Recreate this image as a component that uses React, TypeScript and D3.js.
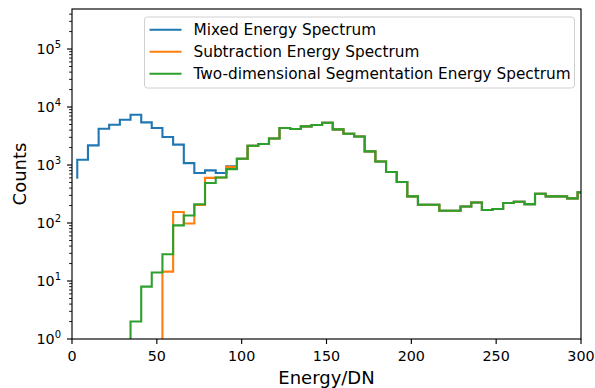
import React from 'react';
import * as d3 from 'd3';

// bin edges (Energy/DN)
const binEdges = [
  3.1, 9.4, 15.7, 21.9, 28.2, 34.5, 40.8, 47.0, 53.3, 59.6,
  65.9, 72.1, 78.4, 84.7, 91.0, 97.2, 103.5, 109.8, 116.1, 122.3,
  128.6, 134.9, 141.2, 147.4, 153.7, 160.0, 166.3, 172.5, 178.8, 185.1,
  191.4, 197.6, 203.9, 210.2, 216.5, 222.7, 229.0, 235.3, 241.6, 247.8,
  254.1, 260.4, 266.7, 272.9, 279.2, 285.5, 291.8, 298.0, 304.3,
];

// counts for edges 0..15 (mixed), 8..15 (subtraction), 5..15 (segmentation)
const mixedHead = [580, 1230, 2180, 4230, 4950, 6040, 7370, 5430, 4340, 3040, 2250, 1080, 728, 807, 728, 946];
const subtractionHead = [1, 14.5, 155, 98, 205, 600, 610, 930];
const segmentationHead = [1, 2, 8, 14, 29, 91, 135, 210, 490, 610, 850];
// all three spectra coincide from edge 16 on
const sharedTail = [
  1280, 2150, 2300, 2870, 4350, 4170, 4630, 4900, 5360, 4110,
  3470, 3110, 1720, 1150, 757, 510, 288, 207, 207, 163,
  163, 193, 226, 168, 174, 221, 233, 212, 320, 288,
  288, 266, 337,
];

const seriesNames = ['Mixed Energy Spectrum', 'Subtraction Energy Spectrum', 'Two-dimensional Segmentation Energy Spectrum'];
const seriesColors = ['#1f77b4', '#ff7f0e', '#2ca02c'];
const seriesStart = [0, 8, 5];
const seriesHeads = [mixedHead, subtractionHead, segmentationHead];

const xTicks = [0, 50, 100, 150, 200, 250, 300];
const yExponents = [0, 1, 2, 3, 4, 5];

const W = 595;
const H = 388;
const margin = { top: 9, right: 14, bottom: 49, left: 72 };
const font = '"DejaVu Sans", sans-serif';

const App = () => {
  const x = d3.scaleLinear().domain([0, 300]).range([margin.left, W - margin.right]);
  const y = d3.scaleLog().domain([1, 4.9e5]).range([H - margin.bottom, margin.top]);
  const [x0, x1] = x.range();
  const [y0, y1] = y.range();

  const series = seriesNames.map((name, i) => {
    const counts = seriesHeads[i].concat(sharedTail);
    const pts = counts.map((c, j) => [binEdges[seriesStart[i] + j], c] as [number, number]);
    return { name, color: seriesColors[i], pts };
  });

  const line = d3.line<[number, number]>()
    .x(d => x(d[0]))
    .y(d => y(d[1]))
    .curve(d3.curveStepBefore);

  const minor: number[] = [];
  yExponents.forEach(k => {
    for (let m = 2; m <= 9; m++) {
      const v = m * Math.pow(10, k);
      if (v < 4.9e5) minor.push(v);
    }
  });

  const legend = { x: 144.5, y: 17, w: 430, h: 71 };

  return (
    <svg width={W} height={H} style={{ position: 'absolute', left: 0, top: 0, fontFamily: font }}>
      <defs>
        <clipPath id="plot">
          <rect x={x0} y={y1} width={x1 - x0} height={y0 - y1} />
        </clipPath>
      </defs>
      <rect width={W} height={H} fill="#fff" />

      <g clipPath="url(#plot)">
        {series.map(s => (
          <path key={s.name} d={line(s.pts) || ''} fill="none" stroke={s.color} strokeWidth={2.1} strokeLinejoin="miter" />
        ))}
      </g>

      {/* spines */}
      <rect x={x0} y={y1} width={x1 - x0} height={y0 - y1} fill="none" stroke="#000" strokeWidth={1.15} />

      {/* x axis */}
      {xTicks.map(t => (
        <g key={t}>
          <line x1={x(t)} x2={x(t)} y1={y0} y2={y0 + 5} stroke="#000" strokeWidth={1.15} />
          <text x={x(t)} y={y0 + 22} textAnchor="middle" fontSize={14.3} fill="#000">{t}</text>
        </g>
      ))}
      <text x={(x0 + x1) / 2} y={384} textAnchor="middle" fontSize={18} fill="#000">Energy/DN</text>

      {/* y axis */}
      {minor.map(v => (
        <line key={v} x1={x0 - 2.9} x2={x0} y1={y(v)} y2={y(v)} stroke="#000" strokeWidth={0.9} />
      ))}
      {yExponents.map(k => {
        const v = Math.pow(10, k);
        return (
          <g key={k}>
            <line x1={x0 - 5} x2={x0} y1={y(v)} y2={y(v)} stroke="#000" strokeWidth={1.15} />
            <text x={x0 - 11} y={y(v) + 5} textAnchor="end" fontSize={14.3} fill="#000">
              10<tspan fontSize={10} dy={-6.5}>{k}</tspan>
            </text>
          </g>
        );
      })}
      <text transform={`translate(26,${(y0 + y1) / 2}) rotate(-90)`} textAnchor="middle" fontSize={18} fill="#000">Counts</text>

      {/* legend */}
      <rect x={legend.x} y={legend.y} width={legend.w} height={legend.h} rx={3} fill="#fff" fillOpacity={0.8} stroke="#d0d0d0" strokeWidth={1} />
      {series.map((s, i) => {
        const ly = 29.7 + i * 22;
        return (
          <g key={s.name}>
            <line x1={149.5} x2={181.5} y1={ly} y2={ly} stroke={s.color} strokeWidth={2.1} />
            <text x={193.5} y={ly + 5.3} fontSize={15.3} fill="#000">{s.name}</text>
          </g>
        );
      })}
    </svg>
  );
};

export default App;
